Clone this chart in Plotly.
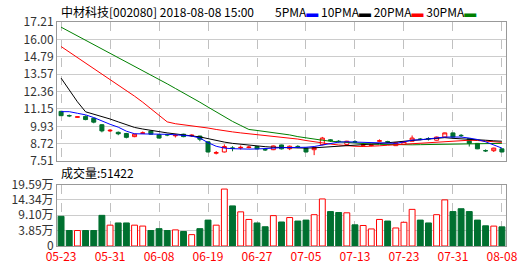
import plotly.graph_objects as go

dates = ["05-23","05-24","05-25","05-28","05-29","05-30","05-31","06-01","06-04","06-05",
         "06-06","06-07","06-08","06-11","06-12","06-13","06-14","06-15","06-19","06-20",
         "06-21","06-22","06-25","06-26","06-27","06-28","06-29","07-02","07-03","07-04",
         "07-05","07-06","07-09","07-10","07-11","07-12","07-13","07-16","07-17","07-18",
         "07-19","07-20","07-23","07-24","07-25","07-26","07-27","07-30","07-31","08-01",
         "08-02","08-03","08-06","08-07","08-08"]

open_ = [10.98,10.69,10.57,10.63,10.50,10.05,9.62,9.52,9.44,9.22,
         9.45,9.61,9.35,9.36,9.28,9.39,9.28,9.26,8.86,8.07,
         8.15,8.43,8.44,8.46,8.53,8.32,8.31,8.64,8.38,8.54,
         8.42,8.31,8.66,9.00,8.90,8.68,8.87,8.62,8.60,8.90,
         8.87,8.59,8.68,8.90,9.05,9.09,8.97,9.19,9.48,9.31,
         9.08,8.75,8.25,8.24,8.37]
high = [11.02,10.76,10.62,10.70,10.52,10.10,9.75,9.58,9.48,9.42,
        9.58,9.63,9.38,9.42,9.42,9.42,9.38,9.28,8.88,8.22,
        8.68,8.55,8.60,8.58,8.56,8.38,8.60,8.66,8.60,8.62,
        8.45,8.50,9.20,9.05,8.98,8.93,8.97,8.75,8.70,9.03,
        8.93,8.82,8.90,9.30,9.12,9.18,9.22,9.50,9.50,9.40,
        9.10,8.77,8.33,8.45,8.40]
low = [10.66,10.58,10.55,10.36,10.15,9.52,9.55,9.32,9.10,9.18,
       9.42,9.36,9.10,9.25,9.16,9.18,9.20,8.90,8.12,7.98,
       8.12,8.20,8.32,8.40,8.34,8.22,8.28,8.33,8.28,8.42,
       8.12,7.93,8.62,8.85,8.80,8.65,8.78,8.53,8.55,8.83,
       8.78,8.57,8.66,8.88,8.97,8.95,8.95,9.17,9.17,9.18,
       8.53,8.35,8.15,8.15,8.13]
close = [10.68,10.67,10.60,10.41,10.23,9.62,9.66,9.42,9.17,9.39,
         9.48,9.39,9.12,9.34,9.31,9.22,9.32,9.04,8.15,8.10,
         8.53,8.41,8.47,8.49,8.37,8.30,8.57,8.37,8.55,8.52,
         8.15,8.46,9.12,8.94,8.88,8.90,8.85,8.65,8.64,8.93,
         8.85,8.80,8.88,9.12,9.03,9.07,9.19,9.48,9.19,9.29,
         8.75,8.37,8.23,8.42,8.15]

ma5 = [10.96,10.96,10.85,10.74,10.55,10.30,10.08,9.88,9.60,9.42,
       9.42,9.42,9.40,9.38,9.35,9.32,9.26,9.12,8.80,8.55,
       8.42,8.38,8.35,8.35,8.36,8.40,8.43,8.45,8.46,8.46,
       8.48,8.53,8.62,8.72,8.84,8.86,8.84,8.82,8.80,8.78,
       8.75,8.75,8.85,8.98,9.00,9.08,9.12,9.19,9.19,9.19,
       9.12,9.02,8.86,8.64,8.42]
ma10 = [13.30,12.45,11.65,10.95,10.80,10.62,10.45,10.25,10.05,9.86,
        9.75,9.65,9.58,9.48,9.41,9.34,9.30,9.20,9.08,8.95,
        8.84,8.75,8.68,8.64,8.58,8.52,8.48,8.46,8.45,8.42,
        8.42,8.44,8.47,8.50,8.53,8.57,8.62,8.66,8.70,8.74,
        8.78,8.82,8.86,8.95,9.00,9.05,9.12,9.15,9.10,9.08,
        9.06,9.04,8.97,8.93,8.90]
ma20 = [15.50,15.12,14.73,14.35,13.96,13.58,13.19,12.81,12.42,12.04,
        11.62,11.15,10.70,10.25,10.12,10.05,10.00,9.90,9.82,9.72,
        9.62,9.55,9.48,9.42,9.38,9.30,9.22,9.15,9.10,9.05,
        8.95,8.85,8.78,8.70,8.64,8.58,8.55,8.53,8.53,8.58,
        8.62,8.66,8.70,8.72,8.75,8.80,8.86,8.90,8.93,8.96,
        8.97,8.95,8.92,8.87,8.82]
ma30 = [16.85,16.55,16.24,15.93,15.62,15.31,15.00,14.70,14.40,14.10,
        13.80,13.50,13.20,12.90,12.58,12.27,11.96,11.62,11.28,10.94,
        10.60,10.28,10.00,9.72,9.65,9.58,9.50,9.42,9.34,9.22,
        9.12,9.04,8.97,8.90,8.85,8.80,8.76,8.73,8.70,8.68,
        8.66,8.64,8.64,8.65,8.66,8.67,8.68,8.69,8.70,8.71,
        8.72,8.72,8.73,8.74,8.75]

volume_wan = [8.74,3.89,3.89,3.89,3.89,9.07,5.72,6.48,6.48,5.72,
              5.41,3.89,4.53,3.89,4.11,3.56,2.49,4.53,7.45,5.72,
              18.04,12.30,10.26,7.67,6.48,5.18,8.97,6.80,8.32,7.12,
              7.45,9.29,14.67,10.36,10.04,9.94,5.83,5.61,4.43,7.67,
              7.12,4.76,6.70,11.11,7.45,6.48,9.29,14.35,10.36,11.33,
              10.36,7.45,5.50,5.40,5.14]

price_ticks = [7.51, 8.72, 9.93, 11.15, 12.36, 13.57, 14.79, 16.00, 17.21]
vol_tickvals = [-1.39, 3.85, 9.10, 14.34, 19.59]
vol_ticktext = ["0", "3.85万", "9.10万", "14.34万", "19.59万"]
label_dates = dates[::6]

title_text = "中材科技[002080] 2018-08-08 15:00"
vol_title = "成交量:51422"

RED = "#FF0000"
GREEN = "#007030"
FONT = "Noto Sans CJK SC"

up = [c > o for o, c in zip(open_, close)]
bar_fill = ["#FFFFFF" if u else GREEN for u in up]
bar_line = [RED if u else GREEN for u in up]

fig = go.Figure()
fig.add_trace(go.Candlestick(
    x=dates, open=open_, high=high, low=low, close=close,
    increasing=dict(line=dict(color=RED, width=1), fillcolor="#FFFFFF"),
    decreasing=dict(line=dict(color=GREEN, width=1), fillcolor=GREEN),
    whiskerwidth=0, xaxis="x", yaxis="y", showlegend=False, hoverinfo="skip"))
for vals, col in [(ma30, "#008000"), (ma20, RED), (ma10, "#000000"), (ma5, "#0000FF")]:
    fig.add_trace(go.Scatter(x=dates, y=vals, mode="lines",
                             line=dict(color=col, width=1),
                             xaxis="x", yaxis="y", showlegend=False, hoverinfo="skip"))
fig.add_trace(go.Bar(
    x=dates, y=[v - vol_tickvals[0] for v in volume_wan], base=vol_tickvals[0],
    width=0.72,
    marker=dict(color=bar_fill, line=dict(color=bar_line, width=1)),
    xaxis="x2", yaxis="y2", showlegend=False, hoverinfo="skip"))

L, R, T, B = 55, 18, 21, 20
H = 276 - T - B
grid = "#CCCCCC"
border = "#999999"

axis_common = dict(showline=True, mirror=True, linecolor=border, linewidth=1,
                   zeroline=False, fixedrange=True)

fig.update_layout(
    width=530, height=276,
    margin=dict(l=L, r=R, t=T, b=B, pad=0),
    paper_bgcolor="#FFFFFF", plot_bgcolor="#FFFFFF",
    font=dict(family=FONT, size=12, color="#333333"),
    xaxis=dict(type="category", categoryorder="array", categoryarray=dates,
               range=[-0.5, len(dates) - 0.5], tickvals=label_dates,
               showticklabels=False, ticks="", showgrid=True, gridcolor="#C0C0C0",
               griddash="dash", gridwidth=1, rangeslider=dict(visible=False),
               anchor="y", **axis_common),
    yaxis=dict(domain=[(256 - 167) / H, 1.0], range=[price_ticks[0], price_ticks[-1]],
               tickvals=price_ticks, ticktext=[f"{v:.2f}" for v in price_ticks],
               showgrid=True, gridcolor=grid, ticks="", anchor="x",
               tickfont=dict(size=12, color="#333333"), **axis_common),
    xaxis2=dict(type="category", categoryorder="array", categoryarray=dates,
                range=[-0.5, len(dates) - 0.5], tickvals=label_dates,
                ticktext=label_dates, showticklabels=True, ticks="",
                tickfont=dict(size=12, color=RED), showgrid=True, gridcolor="#C0C0C0",
                griddash="dash", anchor="y2", **axis_common),
    yaxis2=dict(domain=[0, (256 - 191.5) / H], range=[vol_tickvals[0], vol_tickvals[-1]],
                tickvals=vol_tickvals, ticktext=vol_ticktext, showgrid=True,
                gridcolor=grid, ticks="", anchor="x2",
                tickfont=dict(size=12, color="#333333"), **axis_common),
    bargap=0.2,
)

W = 530 - L - R
def px(x):
    return (x - L) / W
def py(y):
    return (256 - y) / H

fig.add_annotation(text=title_text, x=px(57), y=py(10), xref="paper", yref="paper",
                   xanchor="left", yanchor="middle", showarrow=False,
                   font=dict(family=FONT, size=12, color="#000000"))
legend_items = [("5PMA", "#0000FF"), ("10PMA", "#000000"), ("20PMA", RED), ("30PMA", "#008000")]
legend_html = " ".join(f"{name}<span style='color:{c}'>▬</span>" for name, c in legend_items)
fig.add_annotation(text=legend_html, x=px(275), y=py(10), xref="paper", yref="paper",
                   xanchor="left", yanchor="middle", showarrow=False,
                   font=dict(family=FONT, size=12, color="#000000"))
fig.add_annotation(text=vol_title, x=px(57), y=py(179), xref="paper", yref="paper",
                   xanchor="left", yanchor="middle", showarrow=False,
                   font=dict(family=FONT, size=12, color="#000000"))

fig.write_html("out.html")
